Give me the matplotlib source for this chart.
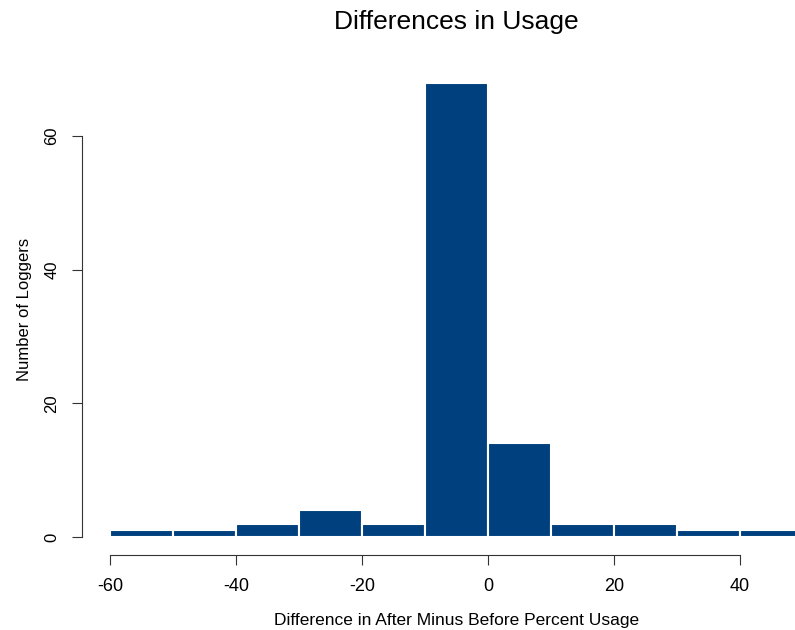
import numpy as np
import matplotlib.pyplot as plt

plt.rcParams['font.family'] = ['Liberation Sans', 'DejaVu Sans']
plt.rcParams['axes.unicode_minus'] = False

# histogram bins (edges) and counts
bin_edges = [-60, -50, -40, -30, -20, -10, 0, 10, 20, 30, 40, 50]
counts = [1, 1, 2, 4, 2, 68, 14, 2, 2, 1, 1]
x_ticks = [-60, -40, -20, 0, 20, 40]
y_ticks = [0, 20, 40, 60]

fig = plt.figure(figsize=(7.95, 6.3), dpi=100)
ax = fig.add_axes([0.1035, 0.1187, 0.9414, 0.7791])

lefts = np.array(bin_edges[:-1])
widths = np.diff(bin_edges)
ax.bar(lefts, counts, width=widths, align='edge', color='#00407F',
       edgecolor='white', linewidth=1.5)

# R-style usr range (4% padding)
xr = bin_edges[-1] - bin_edges[0]
ax.set_xlim(bin_edges[0] - 0.04 * xr, bin_edges[-1] + 0.04 * xr)
ax.set_ylim(-0.04 * max(counts), max(counts) * 1.04)

for s in ['top', 'right']:
    ax.spines[s].set_visible(False)
ax.spines['left'].set_bounds(0, 60)
ax.spines['bottom'].set_bounds(-60, 40)
ax.spines['left'].set_color('#333333')
ax.spines['bottom'].set_color('#333333')

ax.set_xticks(x_ticks)
ax.set_yticks(y_ticks)
ax.set_yticklabels([str(v) for v in y_ticks], rotation=90, va='center')
ax.tick_params(axis='both', direction='out', length=7.5, pad=9, color='#333333')
ax.tick_params(axis='x', labelsize=13)
ax.tick_params(axis='y', labelsize=12)

ax.set_xlabel('Difference in After Minus Before Percent Usage', fontsize=12.5, labelpad=13)
ax.set_ylabel('Number of Loggers', fontsize=12, labelpad=9)
# title centred over the plot region, like R's main
fig.text(456 / 795, 1 - 22 / 630, 'Differences in Usage', fontsize=19,
         ha='center', va='center')

fig.savefig('out.png', dpi=100)
